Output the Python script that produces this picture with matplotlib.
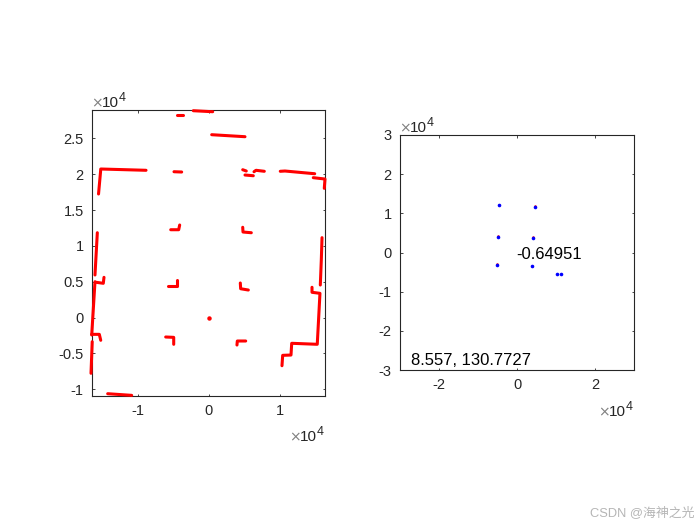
import matplotlib
matplotlib.use("Agg")
import matplotlib.pyplot as plt

plt.rcParams['font.family'] = ['Liberation Sans', 'Noto Sans CJK SC', 'DejaVu Sans']

# Left panel: wall traces, in units of 10^4
wall_segments = [
    ([-1.556, -1.528, -1.525, -0.887], [1.725, 2.032, 2.074, 2.056]),
    ([-0.446, -0.362], [2.828, 2.828]),
    ([-0.221, 0.052], [2.888, 2.874]),
    ([-0.493, -0.385], [2.036, 2.032]),
    ([-0.539, -0.427, -0.413], [1.226, 1.226, 1.292]),
    ([-1.573, -1.606], [1.184, 0.594]),
    ([-1.606, -1.652], [0.500, -0.244]),
    ([-1.592, -1.489, -1.479], [0.492, 0.478, 0.561]),
    ([-1.652, -1.545, -1.525], [-0.235, -0.235, -0.318]),
    ([-1.645, -1.662], [-0.338, -0.779]),
    ([-1.427, -1.089], [-1.064, -1.087]),
    ([-0.573, -0.455, -0.455], [0.436, 0.436, 0.524]),
    ([-0.610, -0.497, -0.497], [-0.272, -0.277, -0.374]),
    ([0.038, 0.507], [2.553, 2.525]),
    ([0.475, 0.525], [2.064, 2.046]),
    ([0.507, 0.624], [1.990, 1.980]),
    ([0.634, 0.662, 0.779], [2.036, 2.056, 2.042]),
    ([1.004, 1.070, 1.489], [2.042, 2.046, 2.008]),
    ([1.469, 1.634, 1.624], [1.953, 1.934, 1.804]),
    ([0.475, 0.479, 0.596], [1.260, 1.194, 1.184]),
    ([1.592, 1.582, 1.568], [1.115, 0.803, 0.454]),
    ([1.451, 1.451, 1.563, 1.525, 1.165, 1.155, 1.038, 1.028],
     [0.422, 0.352, 0.338, -0.374, -0.360, -0.524, -0.528, -0.673]),
    ([0.441, 0.446, 0.554], [0.482, 0.402, 0.384]),
    ([0.394, 0.399, 0.517], [-0.384, -0.328, -0.328]),
]
origin_x = [0.0]
origin_y = [0.0]

# Right panel: detected points, in units of 10^4
blue_x = [-0.46, 0.453, -0.487, 0.418, -0.513, 0.385, 1.026, 1.128]
blue_y = [1.205, 1.17, 0.395, 0.362, -0.328, -0.353, -0.556, -0.556]
red_x = [-0.45, 0.453, -0.487, 0.418, -0.52, 0.385]
red_y = [1.22, 1.18, 0.42, 0.385, -0.295, -0.345]

left_xticks = [-1, 0, 1]
left_yticks = [-1, -0.5, 0, 0.5, 1, 1.5, 2, 2.5]
left_ylabels = ['-1', '-0.5', '0', '0.5', '1', '1.5', '2', '2.5']
right_xticks = [-2, 0, 2]
right_yticks = [-3, -2, -1, 0, 1, 2, 3]

label_a = '-0.64951'
label_b = '8.557, 130.7727'
watermark = 'CSDN @海神之光'

W, H = 700, 525
DARK = '#262626'
fig = plt.figure(figsize=(7, 5.25), dpi=100)


def make_axes(x0, x1, y0, y1):
    ax = fig.add_axes([x0 / W, 1 - y1 / H, (x1 - x0) / W, (y1 - y0) / H])
    for s in ax.spines.values():
        s.set_linewidth(0.8)
        s.set_color(DARK)
    ax.tick_params(direction='in', length=1.8, width=0.6, color=DARK,
                   labelcolor=DARK, labelsize=10.5, top=True, right=True, pad=6)
    return ax


def exponent(px, py):
    fig.text(px / W, 1 - py / H, '×', fontsize=10, color='#808080',
             ha='left', va='baseline', fontfamily='DejaVu Sans')
    fig.text((px + 11) / W, 1 - py / H, '10', fontsize=11, color=DARK, ha='left', va='baseline')
    fig.text((px + 28) / W, 1 - (py - 6) / H, '4', fontsize=9, color=DARK, ha='left', va='baseline')


ax1 = make_axes(92, 325, 110, 396)
for sx, sy in wall_segments:
    ax1.plot(sx, sy, color='#ff0000', lw=2.2, solid_capstyle='round',
             solid_joinstyle='round', zorder=3, clip_on=False)
ax1.plot(origin_x, origin_y, 'o', color='#ff0000', ms=2.2, zorder=3)
ax1.set_xlim(-1.648, 1.634)
ax1.set_ylim(-1.096, 2.898)
ax1.set_xticks(left_xticks)
ax1.set_xticklabels([str(v) for v in left_xticks])
ax1.set_yticks(left_yticks)
ax1.set_yticklabels(left_ylabels)

ax2 = make_axes(400, 634, 135, 370)
ax2.plot(red_x, red_y, 'o', color='#ff0000', ms=1.8, mew=0, zorder=3)
ax2.plot(blue_x, blue_y, 'o', color='#0000ff', ms=2.6, mew=0, zorder=4)
ax2.set_xlim(-3, 3)
ax2.set_ylim(-3, 3)
ax2.set_xticks(right_xticks)
ax2.set_xticklabels([str(v) for v in right_xticks])
ax2.set_yticks(right_yticks)
ax2.set_yticklabels([str(v) for v in right_yticks])
ax2.text(-0.03, -0.06, label_a, fontsize=12, color='black', ha='left', va='center')
ax2.text(-2.72, -2.77, label_b, fontsize=12, color='black', ha='left', va='center')

exponent(91, 107)
exponent(289, 441)
exponent(399, 132)
exponent(598, 416)

fig.text(695 / W, 1 - 516 / H, watermark, fontsize=9.3, color='#b5b5b5', ha='right', va='baseline')

fig.savefig('out.png', dpi=100)
